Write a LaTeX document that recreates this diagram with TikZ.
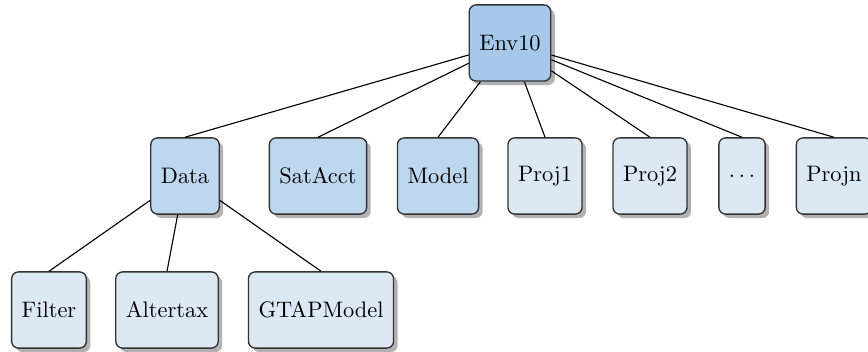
\documentclass[tikz,border=0pt]{standalone}
\usetikzlibrary{shadows}
\definecolor{darkbox}{HTML}{A6C8EA}
\definecolor{midbox}{HTML}{BDD7EE}
\definecolor{lightbox}{HTML}{DDE8F5}
\tikzset{
  box/.style={draw=black!80, line width=0.6pt, rounded corners=3pt,
    inner xsep=4.5pt, minimum height=34pt, font=\normalsize,
    drop shadow={shadow xshift=1.8pt, shadow yshift=-1.8pt, fill=black!30, opacity=1}},
  rootbox/.style={box, fill=darkbox},
  midnode/.style={box, fill=midbox},
  leafbox/.style={box, fill=lightbox},
  link/.style={draw=black, line width=0.5pt}
}
\begin{document}
\begin{tikzpicture}[x=0.4464pt, y=-0.4464pt]
\useasboundingbox (0,0) rectangle (868,352);
\node[rootbox] (env) at (510,43) {Env10};
\node[midnode] (data) at (185,176) {Data};
\node[midnode] (sat) at (318,176) {SatAcct};
\node[midnode] (model) at (438,176) {Model};
\node[leafbox] (p1) at (545,176) {Proj1};
\node[leafbox] (p2) at (650,176) {Proj2};
\node[leafbox] (dots) at (742,176) {$\ldots$};
\node[leafbox] (pn) at (834,176) {Projn};
\node[leafbox] (filter) at (49,310) {Filter};
\node[leafbox] (alt) at (167,310) {Altertax};
\node[leafbox] (gtap) at (321,310) {GTAPModel};
\foreach \c in {data,sat,model,p1,p2,dots,pn} \draw[link] (env) -- (\c.north);
\foreach \c in {filter,alt,gtap} \draw[link] (data) -- (\c.north);
\end{tikzpicture}
\end{document}
